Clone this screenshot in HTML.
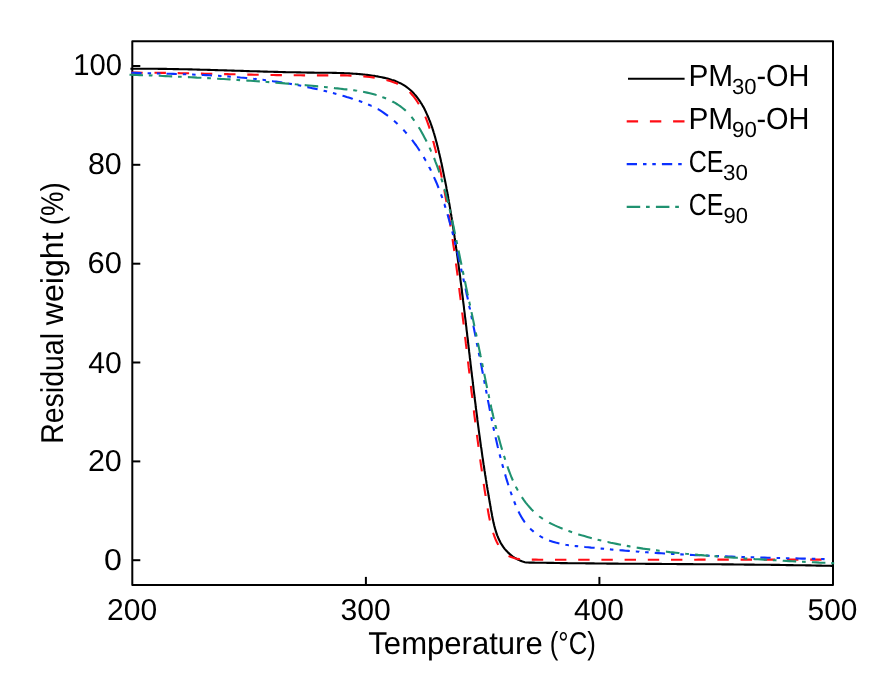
<!DOCTYPE html>
<html lang="en"><head><meta charset="utf-8"><title>TGA curves</title>
<style>
html,body{margin:0;padding:0;background:#fff;}
svg{display:block;}
text{font-family:"Liberation Sans",sans-serif;fill:#000;text-rendering:geometricPrecision;}
.ax{stroke:#000;stroke-width:2;fill:none;}
.c{fill:none;stroke-width:2.1;stroke-linejoin:round;}
</style></head><body>
<svg width="891" height="681" viewBox="0 0 891 681">
<rect x="0" y="0" width="891" height="681" fill="#fff"/>
<rect class="ax" stroke-linejoin="round" x="132.3" y="41.3" width="700.7" height="543.6"/>
<line class="ax" x1="132.3" x2="140.3" y1="560.2" y2="560.2"/>
<line class="ax" x1="132.3" x2="140.3" y1="461.4" y2="461.4"/>
<line class="ax" x1="132.3" x2="140.3" y1="362.5" y2="362.5"/>
<line class="ax" x1="132.3" x2="140.3" y1="263.7" y2="263.7"/>
<line class="ax" x1="132.3" x2="140.3" y1="164.8" y2="164.8"/>
<line class="ax" x1="132.3" x2="140.3" y1="66.0" y2="66.0"/>
<line class="ax" x1="365.9" x2="365.9" y1="584.9" y2="576.9"/>
<line class="ax" x1="599.4" x2="599.4" y1="584.9" y2="576.9"/>
<text id="y0" font-size="30.2" transform="translate(103.95,570.00) scale(1.0657,1)">0</text>
<text id="y20" font-size="30.2" transform="translate(87.89,471.00) scale(1.0090,1)">20</text>
<text id="y40" font-size="30.2" transform="translate(88.22,373.00) scale(0.9987,1)">40</text>
<text id="y60" font-size="30.2" transform="translate(87.55,273.00) scale(1.0226,1)">60</text>
<text id="y80" font-size="30.2" transform="translate(87.95,174.00) scale(1.0078,1)">80</text>
<text id="y100" font-size="30.2" transform="translate(73.16,75.00) scale(0.9679,1)">100</text>
<text id="x200" font-size="30.2" transform="translate(107.10,620.00) scale(0.9956,1)">200</text>
<text id="x300" font-size="30.2" transform="translate(340.42,620.00) scale(0.9988,1)">300</text>
<text id="x400" font-size="30.2" transform="translate(573.92,620.00) scale(0.9917,1)">400</text>
<text id="x500" font-size="30.2" transform="translate(807.55,620.00) scale(0.9891,1)">500</text>
<text id="xt" font-size="31.6" y="654.4"><tspan id="xt_0" x="368.33" textLength="174.38" lengthAdjust="spacingAndGlyphs">Temperature</tspan> <tspan id="xt_1" x="549.78" textLength="46.08" lengthAdjust="spacingAndGlyphs">(°C)</tspan></text>
<text id="yt" font-size="31.6" transform="translate(62.7,0) rotate(-90)"><tspan id="yt_0" x="-443.87" textLength="110.90" lengthAdjust="spacingAndGlyphs">Residual</tspan> <tspan id="yt_1" x="-325.34" textLength="92.96" lengthAdjust="spacingAndGlyphs">weight</tspan> <tspan id="yt_2" x="-225.22" textLength="43.00" lengthAdjust="spacingAndGlyphs">(%)</tspan></text>
<path class="c" id="c_black" stroke="#000000" d="M130.4,68.8L131.9,68.8L133.4,68.8L134.8,68.8L136.3,68.8L137.8,68.8L139.3,68.8L140.8,68.8L142.3,68.8L143.8,68.8L145.2,68.8L146.7,68.8L148.2,68.8L149.7,68.8L151.2,68.8L152.7,68.8L154.2,68.8L155.7,68.8L157.2,68.8L158.6,68.9L160.1,68.9L161.6,68.9L163.1,68.9L164.6,68.9L166.1,68.9L167.6,69.0L169.1,69.0L170.6,69.0L172.1,69.0L173.6,69.1L175.1,69.1L176.6,69.1L178.1,69.1L179.6,69.2L181.1,69.2L182.6,69.2L184.1,69.3L185.6,69.3L187.1,69.3L188.6,69.4L190.1,69.4L191.6,69.4L193.1,69.5L194.6,69.5L196.1,69.5L197.6,69.6L199.1,69.6L200.6,69.7L202.1,69.7L203.6,69.7L205.1,69.8L206.6,69.8L208.1,69.9L209.6,69.9L211.1,70.0L212.6,70.0L214.1,70.0L215.6,70.1L217.1,70.1L218.6,70.2L220.2,70.2L221.7,70.3L223.2,70.3L224.7,70.4L226.2,70.4L227.7,70.5L229.2,70.5L230.7,70.5L232.2,70.6L233.7,70.6L235.2,70.7L236.7,70.7L238.2,70.8L239.7,70.8L241.2,70.9L242.8,70.9L244.3,71.0L245.8,71.0L247.3,71.1L248.8,71.1L250.3,71.2L251.8,71.2L253.3,71.2L254.8,71.3L256.3,71.3L257.8,71.4L259.3,71.4L260.8,71.5L262.3,71.5L263.9,71.6L265.4,71.6L266.9,71.6L268.4,71.7L269.9,71.7L271.4,71.8L272.9,71.8L274.4,71.9L275.9,71.9L277.4,71.9L278.9,72.0L280.4,72.0L281.9,72.0L283.4,72.1L284.9,72.1L286.4,72.2L287.9,72.2L289.4,72.2L290.9,72.3L292.4,72.3L293.9,72.3L295.5,72.3L297.0,72.4L298.5,72.4L300.0,72.4L301.5,72.5L303.0,72.5L304.5,72.5L306.0,72.5L307.5,72.6L309.0,72.6L310.5,72.6L312.0,72.6L313.5,72.6L315.0,72.7L316.4,72.7L317.9,72.7L319.4,72.7L320.9,72.7L322.4,72.7L323.9,72.7L325.4,72.8L326.9,72.8L328.4,72.8L329.9,72.8L331.4,72.8L332.9,72.9L334.4,72.9L335.9,72.9L337.4,73.0L338.9,73.0L340.3,73.0L341.8,73.1L343.3,73.1L344.8,73.2L346.3,73.2L347.8,73.3L349.3,73.4L350.8,73.5L352.2,73.6L353.7,73.7L355.2,73.8L356.7,73.9L358.2,74.0L359.6,74.1L361.1,74.2L362.6,74.4L364.1,74.5L365.6,74.7L367.0,74.9L368.5,75.1L370.0,75.3L371.5,75.5L372.9,75.7L374.4,75.9L375.9,76.2L377.4,76.4L378.8,76.7L380.3,77.0L381.8,77.3L383.2,77.6L384.7,77.9L386.2,78.2L387.6,78.6L389.1,79.0L390.5,79.4L391.9,79.9L393.4,80.3L394.8,80.8L396.2,81.4L397.5,82.0L398.9,82.6L400.3,83.2L401.6,83.9L402.9,84.6L404.2,85.4L405.4,86.2L406.7,87.1L407.9,88.0L409.1,89.0L410.3,90.0L411.4,91.0L412.5,92.1L413.6,93.2L414.6,94.4L415.6,95.5L416.6,96.7L417.5,97.9L418.4,99.1L419.3,100.3L420.1,101.5L420.9,102.8L421.7,104.0L422.4,105.3L423.2,106.6L423.9,107.8L424.5,109.1L425.2,110.4L425.8,111.8L426.4,113.1L427.0,114.4L427.6,115.8L428.2,117.1L428.8,118.5L429.3,119.9L429.9,121.2L430.4,122.6L430.9,124.0L431.4,125.4L431.9,126.8L432.4,128.2L432.8,129.7L433.3,131.1L433.7,132.5L434.2,133.9L434.6,135.4L435.0,136.8L435.4,138.3L435.8,139.7L436.2,141.2L436.6,142.6L437.0,144.1L437.3,145.6L437.7,147.0L438.1,148.5L438.4,150.0L438.8,151.5L439.1,152.9L439.5,154.4L439.8,155.9L440.1,157.4L440.5,158.8L440.8,160.3L441.1,161.8L441.5,163.3L441.8,164.8L442.1,166.2L442.4,167.7L442.7,169.2L443.0,170.7L443.3,172.1L443.6,173.6L443.9,175.1L444.2,176.6L444.5,178.1L444.8,179.5L445.1,181.0L445.4,182.5L445.7,184.0L446.0,185.4L446.3,186.9L446.5,188.4L446.8,189.9L447.1,191.4L447.4,192.8L447.6,194.3L447.9,195.8L448.2,197.3L448.4,198.7L448.7,200.2L448.9,201.7L449.2,203.2L449.5,204.7L449.7,206.1L450.0,207.6L450.2,209.1L450.5,210.6L450.7,212.0L450.9,213.5L451.2,215.0L451.4,216.5L451.7,218.0L451.9,219.4L452.1,220.9L452.4,222.4L452.6,223.9L452.8,225.4L453.1,226.8L453.3,228.3L453.5,229.8L453.7,231.3L454.0,232.7L454.2,234.2L454.4,235.7L454.6,237.2L454.9,238.7L455.1,240.1L455.3,241.6L455.5,243.1L455.7,244.6L455.9,246.1L456.1,247.5L456.3,249.0L456.6,250.5L456.8,252.0L457.0,253.5L457.2,255.0L457.4,256.4L457.6,257.9L457.8,259.4L458.0,260.9L458.2,262.4L458.4,263.8L458.6,265.3L458.8,266.8L459.0,268.3L459.2,269.8L459.4,271.3L459.6,272.7L459.8,274.2L460.0,275.7L460.2,277.2L460.3,278.7L460.5,280.1L460.7,281.6L460.9,283.1L461.1,284.6L461.3,286.1L461.5,287.6L461.7,289.0L461.9,290.5L462.0,292.0L462.2,293.5L462.4,295.0L462.6,296.5L462.8,297.9L463.0,299.4L463.1,300.9L463.3,302.4L463.5,303.9L463.7,305.4L463.9,306.9L464.0,308.3L464.2,309.8L464.4,311.3L464.6,312.8L464.8,314.3L464.9,315.8L465.1,317.2L465.3,318.7L465.5,320.2L465.7,321.7L465.8,323.2L466.0,324.7L466.2,326.2L466.4,327.6L466.5,329.1L466.7,330.6L466.9,332.1L467.1,333.6L467.2,335.1L467.4,336.6L467.6,338.0L467.8,339.5L467.9,341.0L468.1,342.5L468.3,344.0L468.4,345.5L468.6,347.0L468.8,348.4L469.0,349.9L469.1,351.4L469.3,352.9L469.5,354.4L469.7,355.9L469.8,357.4L470.0,358.9L470.2,360.3L470.4,361.8L470.5,363.3L470.7,364.8L470.9,366.3L471.1,367.8L471.2,369.3L471.4,370.8L471.6,372.2L471.8,373.7L471.9,375.2L472.1,376.7L472.3,378.2L472.5,379.7L472.7,381.2L472.8,382.7L473.0,384.1L473.2,385.6L473.4,387.1L473.5,388.6L473.7,390.1L473.9,391.6L474.1,393.1L474.3,394.6L474.5,396.0L474.6,397.5L474.8,399.0L475.0,400.5L475.2,402.0L475.4,403.5L475.6,405.0L475.7,406.5L475.9,408.0L476.1,409.4L476.3,410.9L476.5,412.4L476.7,413.9L476.9,415.4L477.1,416.9L477.3,418.4L477.4,419.9L477.6,421.3L477.8,422.8L478.0,424.3L478.2,425.8L478.4,427.3L478.6,428.8L478.8,430.3L479.0,431.8L479.2,433.3L479.4,434.8L479.6,436.2L479.8,437.7L480.0,439.2L480.2,440.7L480.4,442.2L480.6,443.7L480.8,445.2L481.0,446.7L481.3,448.2L481.5,449.6L481.7,451.1L481.9,452.6L482.1,454.1L482.3,455.6L482.5,457.1L482.8,458.6L483.0,460.1L483.2,461.6L483.4,463.1L483.6,464.5L483.9,466.0L484.1,467.5L484.3,469.0L484.5,470.5L484.8,472.0L485.0,473.5L485.2,475.0L485.5,476.5L485.7,477.9L485.9,479.4L486.2,480.9L486.4,482.4L486.6,483.9L486.9,485.4L487.1,486.9L487.4,488.4L487.6,489.9L487.9,491.4L488.1,492.8L488.4,494.3L488.6,495.8L488.9,497.3L489.1,498.8L489.4,500.3L489.6,501.8L489.9,503.3L490.2,504.8L490.4,506.3L490.7,507.7L490.9,509.2L491.2,510.7L491.5,512.2L491.8,513.7L492.0,515.2L492.3,516.7L492.6,518.2L492.9,519.6L493.2,521.1L493.5,522.6L493.9,524.0L494.2,525.5L494.6,526.9L495.0,528.4L495.4,529.8L495.8,531.2L496.3,532.6L496.7,534.0L497.2,535.3L497.8,536.7L498.3,538.0L498.9,539.3L499.5,540.6L500.2,541.9L500.9,543.2L501.6,544.4L502.4,545.6L503.2,546.8L504.0,548.0L504.9,549.1L505.9,550.2L506.9,551.3L507.9,552.4L509.0,553.4L510.1,554.4L511.3,555.4L512.5,556.3L513.7,557.1L515.0,558.0L516.3,558.7L517.7,559.5L519.1,560.1L520.5,560.7L521.9,561.3L523.4,561.8L524.9,562.2L526.4,562.5L527.9,562.5L529.4,562.6L530.9,562.6L532.4,562.6L533.9,562.6L535.4,562.7L536.9,562.7L538.4,562.7L539.9,562.7L541.4,562.8L542.8,562.8L544.3,562.8L545.8,562.8L547.3,562.9L548.8,562.9L550.3,562.9L551.8,562.9L553.3,562.9L554.8,563.0L556.3,563.0L557.8,563.0L559.3,563.0L560.8,563.1L562.3,563.1L563.8,563.1L565.3,563.1L566.8,563.1L568.3,563.2L569.8,563.2L571.3,563.2L572.8,563.2L574.3,563.2L575.8,563.2L577.2,563.3L578.7,563.3L580.2,563.3L581.7,563.3L583.2,563.3L584.7,563.3L586.2,563.4L587.7,563.4L589.2,563.4L590.7,563.4L592.2,563.4L593.7,563.4L595.2,563.5L596.7,563.5L598.2,563.5L599.7,563.5L601.2,563.5L602.7,563.5L604.2,563.5L605.7,563.5L607.2,563.6L608.7,563.6L610.2,563.6L611.6,563.6L613.1,563.6L614.6,563.6L616.1,563.6L617.6,563.6L619.1,563.7L620.6,563.7L622.1,563.7L623.6,563.7L625.1,563.7L626.6,563.7L628.1,563.7L629.6,563.7L631.1,563.7L632.6,563.8L634.1,563.8L635.6,563.8L637.1,563.8L638.6,563.8L640.1,563.8L641.6,563.8L643.1,563.8L644.6,563.8L646.0,563.9L647.5,563.9L649.0,563.9L650.5,563.9L652.0,563.9L653.5,563.9L655.0,563.9L656.5,563.9L658.0,563.9L659.5,563.9L661.0,563.9L662.5,564.0L664.0,564.0L665.5,564.0L667.0,564.0L668.5,564.0L670.0,564.0L671.5,564.0L673.0,564.0L674.5,564.0L676.0,564.0L677.5,564.1L679.0,564.1L680.4,564.1L681.9,564.1L683.4,564.1L684.9,564.1L686.4,564.1L687.9,564.1L689.4,564.1L690.9,564.1L692.4,564.1L693.9,564.2L695.4,564.2L696.9,564.2L698.4,564.2L699.9,564.2L701.4,564.2L702.9,564.2L704.4,564.2L705.9,564.2L707.4,564.2L708.9,564.3L710.4,564.3L711.9,564.3L713.4,564.3L714.8,564.3L716.3,564.3L717.8,564.3L719.3,564.3L720.8,564.3L722.3,564.4L723.8,564.4L725.3,564.4L726.8,564.4L728.3,564.4L729.8,564.4L731.3,564.4L732.8,564.4L734.3,564.5L735.8,564.5L737.3,564.5L738.8,564.5L740.3,564.5L741.8,564.5L743.3,564.5L744.8,564.6L746.3,564.6L747.8,564.6L749.2,564.6L750.7,564.6L752.2,564.6L753.7,564.6L755.2,564.7L756.7,564.7L758.2,564.7L759.7,564.7L761.2,564.7L762.7,564.7L764.2,564.8L765.7,564.8L767.2,564.8L768.7,564.8L770.2,564.8L771.7,564.9L773.2,564.9L774.7,564.9L776.2,564.9L777.7,564.9L779.2,564.9L780.7,565.0L782.2,565.0L783.6,565.0L785.1,565.0L786.6,565.1L788.1,565.1L789.6,565.1L791.1,565.1L792.6,565.1L794.1,565.2L795.6,565.2L797.1,565.2L798.6,565.2L800.1,565.3L801.6,565.3L803.1,565.3L804.6,565.3L806.1,565.4L807.6,565.4L809.1,565.4L810.6,565.4L812.1,565.5L813.6,565.5L815.1,565.5L816.6,565.6L818.0,565.6L819.5,565.6L821.0,565.6L822.5,565.7L824.0,565.7L825.5,565.7L827.0,565.8L828.5,565.8L830.0,565.8L831.5,565.9L833.0,565.9"/>
<path class="c" id="c_red" stroke="#ff0d14" d="M131.3,72.6L132.8,72.6L135.8,72.6L138.8,72.6L141.9,72.7L142.7,72.7M154.5,72.8L155.4,72.8L158.4,72.8L161.4,72.9L164.4,72.9L165.9,72.9M177.7,73.1L177.9,73.1L180.9,73.2L183.9,73.2L186.9,73.3L189.1,73.3M200.9,73.6L201.8,73.6L204.8,73.7L207.8,73.7L210.8,73.8L212.3,73.8M224.1,74.1L224.2,74.1L227.2,74.1L230.2,74.2L233.2,74.3L235.5,74.3M247.3,74.6L248.1,74.6L251.1,74.6L254.1,74.7L257.1,74.8L258.7,74.8M270.5,75.0L270.6,75.0L273.6,75.0L276.6,75.1L279.6,75.1L281.9,75.1M293.7,75.3L294.6,75.3L297.6,75.3L300.6,75.3L303.6,75.4L305.1,75.4M316.9,75.4L317.2,75.4L320.2,75.4L323.3,75.4L326.3,75.4L328.3,75.4M340.1,75.4L341.4,75.4L344.5,75.4L347.5,75.5L350.5,75.6L351.5,75.6M363.3,76.4L363.9,76.4L366.9,76.7L369.8,77.0L372.8,77.4L374.7,77.7M386.5,80.1L387.2,80.3L390.0,81.1L392.8,81.9L395.5,82.9L397.9,84.0M409.7,92.1L410.4,92.8L412.5,95.2L414.5,97.7L416.3,100.2L418.0,102.8L418.9,104.1M425.3,116.6L425.6,117.4L426.7,120.1L427.7,122.8L428.7,125.6L429.6,128.4L429.7,128.6M433.2,141.0L433.2,141.1L434.0,144.0L434.7,146.9L435.5,149.8L436.2,152.7L436.3,153.1M439.2,165.5L439.3,165.9L439.9,168.8L440.6,171.8L441.2,174.8L441.8,177.6M444.3,190.0L444.5,191.1L445.0,194.1L445.6,197.0L446.1,200.0L446.5,202.1M448.7,214.5L448.7,214.8L449.2,217.8L449.7,220.8L450.2,223.7L450.6,226.5M452.5,239.0L452.7,240.0L453.1,243.0L453.5,245.9L454.0,248.9L454.3,251.0M456.0,263.5L456.0,263.7L456.4,266.6L456.8,269.6L457.2,272.6L457.6,275.5M459.2,288.0L459.3,288.9L459.6,291.8L460.0,294.8L460.4,297.8L460.7,300.0M462.2,312.5L462.2,312.6L462.6,315.6L462.9,318.6L463.3,321.5L463.6,324.5M465.1,336.9L465.2,337.9L465.6,340.9L465.9,343.9L466.3,346.8L466.5,349.0M468.0,361.4L468.0,361.7L468.4,364.7L468.7,367.7L469.1,370.7L469.4,373.5M470.9,385.9L471.0,387.0L471.3,390.0L471.7,393.0L472.1,396.0L472.3,398.0M473.8,410.4L473.9,410.9L474.2,413.9L474.6,416.9L475.0,419.8L475.3,422.4M476.9,434.9L477.1,436.2L477.5,439.2L477.9,442.2L478.3,445.2L478.5,446.9M480.2,459.4L480.3,460.1L480.7,463.1L481.1,466.0L481.6,469.0L481.9,471.4M483.7,483.9L483.7,483.9L484.2,486.8L484.6,489.8L485.1,492.8L485.6,495.7L485.6,495.9M487.6,508.4L487.7,508.9L488.2,511.8L488.7,514.8L489.3,517.7L489.9,520.4M493.2,532.8L493.4,533.5L494.4,536.3L495.5,539.2L496.8,542.0L498.2,544.7L498.3,544.9M508.6,555.9L509.2,556.2L511.9,557.3L514.8,558.2L517.8,558.9L520.0,559.2M531.8,559.6L533.0,559.6L535.9,559.6L538.9,559.7L541.9,559.7L543.2,559.7M555.0,559.7L555.3,559.7L558.3,559.7L561.3,559.7L564.3,559.7L566.4,559.7M578.2,559.7L579.2,559.7L582.2,559.7L585.2,559.7L588.2,559.7L589.6,559.7M601.4,559.7L601.6,559.7L604.6,559.7L607.6,559.7L610.6,559.7L612.8,559.7M624.6,559.7L625.5,559.7L628.5,559.7L631.5,559.7L634.5,559.7L636.0,559.7M647.8,559.7L647.9,559.7L650.9,559.7L653.9,559.7L656.9,559.7L659.2,559.7M671.0,559.7L671.8,559.7L674.8,559.7L677.8,559.7L680.7,559.7L682.4,559.7M694.2,559.7L695.7,559.7L698.7,559.6L701.6,559.6L704.6,559.6L705.6,559.6M717.4,559.6L718.1,559.6L721.0,559.6L724.0,559.6L727.0,559.6L728.8,559.6M740.6,559.6L741.9,559.6L744.9,559.6L747.9,559.6L750.9,559.6L752.0,559.6M763.8,559.6L764.3,559.6L767.3,559.6L770.3,559.6L773.3,559.6L775.2,559.6M787.0,559.6L788.2,559.6L791.2,559.6L794.2,559.6L797.2,559.6L798.4,559.6M810.2,559.6L810.6,559.6L813.6,559.6L816.6,559.6L819.6,559.6L821.6,559.6"/>
<path class="c" id="c_blue" stroke="#0b30ff" d="M131.3,72.8L132.8,72.8L135.8,72.9L138.8,73.0L141.6,73.1M147.6,73.2L147.9,73.2L150.9,73.3L151.1,73.3M156.9,73.4L158.4,73.5L160.4,73.5M166.5,73.7L167.4,73.7L170.3,73.8L173.3,73.9L176.3,74.0L176.8,74.0M182.8,74.2L183.8,74.2L186.3,74.3M192.1,74.5L192.7,74.5L195.6,74.7M201.7,74.9L203.2,75.0L206.2,75.1L209.1,75.3L212.0,75.5M218.0,75.8L218.1,75.8L221.0,76.0L221.5,76.0M227.3,76.4L228.5,76.5L230.8,76.7M236.9,77.2L237.4,77.2L240.4,77.5L243.4,77.7L246.3,78.0L247.2,78.1M253.2,78.7L253.8,78.8L256.7,79.1M262.5,79.8L262.7,79.8L265.7,80.2L266.0,80.2M272.1,81.0L273.1,81.2L276.1,81.6L279.1,82.0L282.1,82.5L282.4,82.5M288.4,83.5L289.6,83.7L291.9,84.1M297.7,85.2L298.5,85.3L301.2,85.8M307.3,87.1L307.4,87.1L310.4,87.7L313.3,88.4L316.3,89.0L317.6,89.3M323.6,90.7L325.1,91.1L327.1,91.6M332.9,93.1L333.8,93.3L336.4,94.0M342.5,95.8L343.8,96.1L346.7,97.0L349.5,97.8L352.3,98.7L352.8,98.9M358.8,100.9L359.3,101.0L362.0,102.0L362.3,102.1M368.1,104.4L368.8,104.7L371.5,105.9L371.6,105.9M377.7,109.1L378.0,109.2L380.5,110.7L383.1,112.3L385.5,114.1L388.0,115.9L388.0,115.9M394.0,120.8L395.1,121.7L397.3,123.8L397.5,124.0M403.3,129.8L403.8,130.3L405.9,132.6L406.6,133.5M412.0,139.9L412.6,140.7L414.4,143.1L416.2,145.5L417.9,148.0L419.5,150.5L419.8,150.8M423.7,157.1L424.2,158.0L425.7,160.6L425.9,160.8M429.2,167.0L429.2,167.1L430.6,169.7L431.0,170.6M434.0,177.1L434.3,177.8L435.5,180.5L436.7,183.2L437.8,186.0L438.6,188.0M441.0,194.3L441.0,194.3L442.0,197.1L442.3,198.0M444.3,204.1L444.4,204.2L445.3,207.1L445.5,207.8M447.5,214.2L447.5,214.2L448.3,217.1L449.1,220.0L449.9,222.9L450.5,225.1M452.2,231.4L452.3,231.7L453.0,234.6L453.1,235.1M454.7,241.3L454.8,241.9L455.5,244.8L455.6,245.0M457.1,251.4L457.3,252.2L458.0,255.1L458.6,258.0L459.3,261.0L459.6,262.3M461.1,268.6L461.3,269.8L461.9,272.3M463.3,278.4L463.3,278.6L464.0,281.5L464.1,282.1M465.5,288.5L465.6,288.8L466.2,291.7L466.8,294.7L467.5,297.6L467.9,299.4M469.2,305.8L469.3,306.4L470.0,309.3L470.0,309.4M471.3,315.6L471.5,316.6L472.0,319.3M473.4,325.7L473.6,326.9L474.2,329.8L474.8,332.7L475.4,335.7L475.6,336.6M476.8,342.9L476.8,343.0L477.4,345.9L477.6,346.6M478.8,352.7L478.9,353.2L479.5,356.2L479.5,356.4M480.8,362.9L480.9,363.5L481.5,366.4L482.0,369.3L482.6,372.3L482.9,373.7M484.1,380.1L484.3,381.1L484.8,383.8M486.0,389.9L486.2,391.3L486.7,393.6M487.9,400.0L487.9,400.1L488.5,403.1L489.1,406.0L489.6,408.9L490.0,410.9M491.3,417.2L491.4,417.7L492.0,420.7L492.1,420.9M493.3,427.0L493.5,428.0L494.1,430.7M495.5,437.2L495.8,438.2L496.5,441.2L497.1,444.1L497.8,447.0L498.1,448.0M499.6,454.4L500.0,455.7L500.6,458.1M502.2,464.2L502.3,464.5L503.1,467.4L503.2,467.9M505.1,474.3L505.2,474.6L506.0,477.5L506.9,480.4L507.8,483.3L508.4,485.2M510.6,491.5L510.7,492.0L511.7,494.9L511.8,495.2M514.1,501.3L514.4,502.0L515.5,504.8L515.6,505.0M518.5,511.5L518.6,511.7L519.9,514.3L521.4,516.9L522.9,519.4L524.5,521.8L524.9,522.3M530.2,528.6L531.1,529.5L533.3,531.4L533.7,531.8M539.5,535.8L540.5,536.4L543.0,537.8M549.1,540.5L549.9,540.8L552.7,541.7L555.6,542.6L558.5,543.3L559.4,543.5M565.4,544.7L565.8,544.8L568.7,545.2L568.9,545.2M574.7,546.0L576.1,546.1L578.2,546.3M584.3,546.9L585.1,547.0L588.1,547.3L591.1,547.6L594.1,547.8L594.6,547.9M600.6,548.5L601.6,548.6L604.1,548.8M609.9,549.3L610.6,549.4L613.4,549.7M619.5,550.2L619.6,550.2L622.6,550.4L625.6,550.7L628.6,550.9L629.8,551.0M635.8,551.5L636.1,551.5L639.1,551.7L639.3,551.8M645.1,552.2L646.6,552.3L648.6,552.4M654.7,552.8L655.6,552.9L658.6,553.1L661.6,553.3L664.6,553.5L665.0,553.5M671.0,553.8L672.0,553.9L674.5,554.0M680.3,554.4L681.0,554.4L683.8,554.5M689.9,554.9L690.0,554.9L693.0,555.0L695.9,555.2L698.9,555.3L700.2,555.3M706.2,555.6L706.4,555.6L709.4,555.8L709.7,555.8M715.5,556.0L716.8,556.1L719.0,556.1M725.1,556.4L725.8,556.4L728.8,556.5L731.8,556.6L734.8,556.7L735.4,556.7M741.4,556.9L742.2,557.0L744.9,557.1M750.7,557.2L751.2,557.2L754.2,557.3L754.2,557.3M760.3,557.5L761.7,557.6L764.6,557.6L767.6,557.7L770.6,557.8L770.6,557.8M776.6,558.0L778.1,558.0L780.1,558.0M785.9,558.2L787.1,558.2L789.4,558.3M795.5,558.4L796.1,558.4L799.1,558.5L802.1,558.6L805.1,558.6L805.8,558.7M811.8,558.8L812.6,558.8L815.3,558.9M821.1,559.0L821.6,559.0L824.6,559.1L824.6,559.1"/>
<path class="c" id="c_green" stroke="#209270" d="M129.5,74.7L131.0,74.8L134.0,74.9L137.0,75.0L140.0,75.1L143.0,75.2M148.8,75.4L149.1,75.4L152.1,75.5L152.5,75.6M158.7,75.8L159.6,75.8L162.6,76.0L165.5,76.1L168.5,76.2L171.5,76.4L172.2,76.4M178.0,76.7L179.0,76.7L181.7,76.8M187.9,77.1L188.0,77.1L191.0,77.3L193.9,77.4L196.9,77.6L199.9,77.7L201.4,77.8M207.2,78.1L207.4,78.1L210.4,78.3L210.9,78.3M217.1,78.7L217.8,78.7L220.8,78.9L223.8,79.0L226.8,79.2L229.7,79.4L230.6,79.5M236.4,79.8L237.2,79.9L240.1,80.1M246.3,80.5L247.6,80.6L250.6,80.8L253.6,81.0L256.6,81.2L259.6,81.4L259.8,81.4M265.6,81.8L267.1,82.0L269.3,82.1M275.5,82.6L276.0,82.7L279.0,82.9L282.0,83.1L285.0,83.4L288.0,83.6L289.0,83.7M294.8,84.2L295.5,84.3L298.5,84.5M304.7,85.1L306.0,85.2L309.1,85.5L312.1,85.8L315.1,86.1L318.1,86.4L318.2,86.4M324.0,87.0L324.1,87.0L327.1,87.3L327.7,87.4M333.9,88.0L334.6,88.1L337.5,88.4L340.5,88.7L343.5,89.1L346.5,89.4L347.4,89.5M353.2,90.2L353.9,90.3L356.8,90.7L356.9,90.8M363.1,91.8L364.1,92.0L367.0,92.6L369.9,93.2L372.8,94.0L375.7,94.8L376.6,95.0M382.4,97.0L382.8,97.2L385.6,98.3L386.1,98.5M392.3,101.4L392.4,101.5L395.1,102.9L397.6,104.5L400.1,106.2L402.5,108.0L404.8,109.9L405.8,110.8M411.4,116.8L411.9,117.4L413.7,119.8L414.4,120.7M418.7,127.2L418.7,127.2L420.3,129.8L421.8,132.4L423.2,135.0L424.6,137.7L426.0,140.3L426.6,141.5M429.5,147.6L429.9,148.4L431.1,151.1L431.3,151.5M434.0,158.0L434.6,159.3L435.6,162.1L436.7,164.9L437.7,167.7L438.7,170.5L439.3,172.3M441.3,178.4L441.5,179.1L442.4,181.9L442.5,182.3M444.4,188.9L444.5,189.1L445.3,192.0L446.1,194.9L446.8,197.8L447.6,200.8L448.2,203.1M449.7,209.2L449.7,209.5L450.4,212.5L450.6,213.1M452.0,219.7L452.1,219.8L452.7,222.8L453.4,225.7L454.0,228.7L454.6,231.6L455.1,233.9M456.4,240.1L456.4,240.5L457.0,243.4L457.2,244.0M458.5,250.5L458.6,250.8L459.2,253.7L459.8,256.7L460.4,259.6L461.0,262.5L461.5,264.8M462.7,270.9L462.8,271.3L463.4,274.2L463.6,274.8M464.9,281.3L465.0,281.5L465.6,284.5L466.2,287.4L466.8,290.3L467.4,293.2L468.0,295.6M469.2,301.7L469.3,301.9L469.9,304.9L470.1,305.6M471.5,312.1L471.8,313.6L472.4,316.5L473.0,319.4L473.6,322.3L474.2,325.3L474.5,326.4M475.8,332.5L475.8,332.5L476.4,335.5L476.6,336.4M477.9,343.0L478.2,344.2L478.8,347.2L479.4,350.1L480.0,353.0L480.6,356.0L480.9,357.2M482.1,363.3L482.4,364.8L482.9,367.2M484.2,373.8L484.5,375.2L485.1,378.1L485.7,381.1L486.3,384.0L486.9,387.0L487.1,388.0M488.4,394.2L488.5,394.4L489.1,397.4L489.2,398.1M490.6,404.6L490.7,404.8L491.3,407.7L492.0,410.7L492.6,413.6L493.3,416.6L493.9,418.9M495.4,425.0L495.4,425.3L496.2,428.3L496.3,428.9M498.1,435.4L498.1,435.5L498.9,438.4L499.7,441.3L500.5,444.2L501.3,447.0L502.1,449.7M504.0,455.8L504.4,457.0L505.2,459.7M507.4,466.3L507.6,466.8L508.5,469.5L509.6,472.3L510.6,475.0L511.7,477.8L512.9,480.5L512.9,480.5M515.8,486.6L516.1,487.2L517.5,489.8L517.9,490.5M521.9,497.1L522.2,497.6L523.9,500.1L525.7,502.6L527.6,504.9L529.6,507.2L531.6,509.5L533.4,511.2M539.2,516.3L539.4,516.5L541.8,518.2L542.9,518.9M549.1,522.6L549.4,522.8L552.1,524.1L554.8,525.4L557.5,526.6L560.3,527.8L562.6,528.7M568.4,530.9L568.7,531.0L571.5,532.0L572.1,532.2M578.3,534.3L578.6,534.4L581.5,535.3L584.4,536.1L587.3,536.9L590.2,537.7L591.8,538.2M597.6,539.7L598.9,540.0L601.3,540.6M607.5,542.0L607.7,542.0L610.7,542.7L613.6,543.3L616.5,543.9L619.5,544.5L621.0,544.8M626.8,545.9L626.8,545.9L629.8,546.4L630.5,546.5M636.7,547.5L637.2,547.6L640.1,548.1L643.1,548.6L646.0,549.0L649.0,549.4L650.2,549.6M656.0,550.4L656.4,550.4L659.4,550.8L659.7,550.8M665.9,551.6L666.8,551.7L669.8,552.1L672.7,552.4L675.7,552.7L678.7,553.0L679.4,553.1M685.2,553.7L686.1,553.8L688.9,554.0M695.1,554.6L695.1,554.6L698.1,554.9L701.1,555.1L704.0,555.4L707.0,555.6L708.6,555.7M714.4,556.2L714.5,556.2L717.5,556.4L718.1,556.5M724.3,556.9L725.0,557.0L727.9,557.2L730.9,557.4L733.9,557.6L736.9,557.8L737.8,557.9M743.6,558.3L744.4,558.4L747.3,558.6M753.5,559.0L754.9,559.1L757.9,559.2L760.9,559.4L763.9,559.6L766.9,559.8L767.0,559.8M772.8,560.2L772.9,560.2L775.9,560.3L776.5,560.4M782.7,560.7L783.3,560.8L786.3,560.9L789.3,561.1L792.3,561.3L795.3,561.4L796.2,561.5M802.0,561.8L802.8,561.8L805.7,561.9M811.9,562.2L813.3,562.3L816.3,562.4L819.3,562.6L822.2,562.7L825.2,562.8L825.4,562.8M831.2,563.1L831.2,563.1L834.2,563.2"/>
<line class="c" stroke="#000000" x1="628.0" x2="684.6" y1="78.8" y2="78.8"/>
<text id="lg_black" font-size="30.4" y="86.1"><tspan id="lg_black_0" x="688.43" textLength="44.73" lengthAdjust="spacingAndGlyphs">PM</tspan><tspan id="lg_black_1" font-size="22.0" x="732.03" dy="7.9" textLength="24.54" lengthAdjust="spacingAndGlyphs">30</tspan><tspan id="lg_black_2" x="756.43" dy="-7.9" textLength="53.06" lengthAdjust="spacingAndGlyphs">-OH</tspan></text>
<line class="c" stroke="#ff0d14" stroke-dasharray="11.4 11.8" x1="626.7" x2="684.6" y1="121.4" y2="121.4"/>
<text id="lg_red" font-size="30.4" y="129.2"><tspan id="lg_red_0" x="688.43" textLength="44.73" lengthAdjust="spacingAndGlyphs">PM</tspan><tspan id="lg_red_1" font-size="22.0" x="732.11" dy="7.9" textLength="24.74" lengthAdjust="spacingAndGlyphs">90</tspan><tspan id="lg_red_2" x="756.43" dy="-7.9" textLength="53.06" lengthAdjust="spacingAndGlyphs">-OH</tspan></text>
<line class="c" stroke="#0b30ff" stroke-dasharray="10.3 6.0 3.5 5.8 3.5 6.1" x1="626.7" x2="684.6" y1="164.1" y2="164.1"/>
<text id="lg_blue" font-size="30.4" y="172.3"><tspan id="lg_blue_0" x="688.78" textLength="34.71" lengthAdjust="spacingAndGlyphs">CE</tspan><tspan id="lg_blue_1" font-size="22.0" x="723.08" dy="7.9" textLength="24.90" lengthAdjust="spacingAndGlyphs">30</tspan></text>
<line class="c" stroke="#209270" stroke-dasharray="13.5 5.8 3.7 6.2" x1="626.7" x2="684.6" y1="206.9" y2="206.9"/>
<text id="lg_green" font-size="30.4" y="215.4"><tspan id="lg_green_0" x="688.78" textLength="34.71" lengthAdjust="spacingAndGlyphs">CE</tspan><tspan id="lg_green_1" font-size="22.0" x="723.53" dy="7.9" textLength="24.44" lengthAdjust="spacingAndGlyphs">90</tspan></text>
</svg>
</body></html>
